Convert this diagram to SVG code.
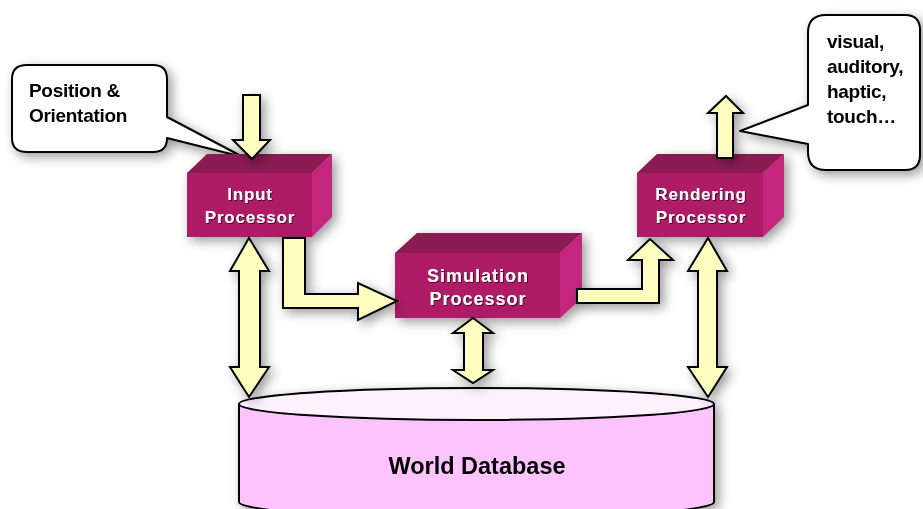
<svg xmlns="http://www.w3.org/2000/svg" width="923" height="509" viewBox="0 0 923 509">
  <defs>
    <filter id="sh" x="-20%" y="-20%" width="150%" height="150%">
      <feDropShadow dx="4" dy="4" stdDeviation="6" flood-color="#000" flood-opacity="0.4"/>
    </filter>
    <filter id="tsh" x="-10%" y="-10%" width="130%" height="130%">
      <feDropShadow dx="1" dy="1" stdDeviation="0.4" flood-color="#3a0020" flood-opacity="0.9"/>
    </filter>
  </defs>
  <style>
    .front { fill: #AE1F68; }
    .top { fill: #8B1A52; }
    .side { fill: #C4267E; }
    .blabel { font-family: "Liberation Sans", Arial, sans-serif; font-weight: bold; font-size: 17px; fill: #ffffff; text-anchor: middle; letter-spacing: 0.8px; }
    .callout { fill: #ffffff; stroke: #000; stroke-width: 2; stroke-linejoin: round; }
    .ctext { font-family: "Liberation Sans", Arial, sans-serif; font-weight: bold; font-size: 19px; fill: #000; letter-spacing: -0.3px; }
    .arrow { fill: #FFFFC0; stroke: #000; stroke-width: 2; stroke-linejoin: miter; }
  </style>
  <rect width="923" height="509" fill="#ffffff"/>

  <g id="world-database" filter="url(#sh)">
    <path d="M239,404 V502 A237.5,16 0 0 0 714,502 V404 Z" fill="#FFC4FF" stroke="#000" stroke-width="2"/>
    <ellipse cx="476.5" cy="404" rx="237.5" ry="16" fill="#FDF0FF" stroke="#000" stroke-width="2"/>
    <text x="477" y="474" font-family="Liberation Sans, Arial, sans-serif" font-weight="bold" font-size="23.5" text-anchor="middle" fill="#000">World Database</text>
  </g>

  <g id="position-callout" filter="url(#sh)">
    <path class="callout" d="M27,65 H153 Q167,65 167,79 V117 L243,157 L167,138 Q167,152 153,152 H27 Q12,152 12,138 V79 Q12,65 27,65 Z"/>
    <text class="ctext" x="29" y="97">Position &amp;</text>
    <text class="ctext" x="29" y="122">Orientation</text>
  </g>

  <g id="output-callout" filter="url(#sh)">
    <path class="callout" d="M826,15 H905 Q920,15 920,30 V155 Q920,170 905,170 H826 Q808,170 808,152 V144 L740,131 L808,105 V33 Q808,15 826,15 Z"/>
    <text class="ctext" x="827" y="48">visual,</text>
    <text class="ctext" x="827" y="73">auditory,</text>
    <text class="ctext" x="827" y="98">haptic,</text>
    <text class="ctext" x="827" y="123">touch…</text>
  </g>

  <g id="input-processor" filter="url(#sh)">
    <rect class="front" x="187" y="173" width="125" height="64"/>
    <polygon class="top" points="187,173 207,154 332,154 312,173"/>
    <polygon class="side" points="312,173 332,154 332,217 312,237"/>
    <g filter="url(#tsh)">
      <text class="blabel" x="250" y="200">Input</text>
      <text class="blabel" x="250" y="223">Processor</text>
    </g>
  </g>

  <g id="simulation-processor" filter="url(#sh)">
    <rect class="front" x="395" y="253" width="165" height="65"/>
    <polygon class="top" points="395,253 417,233 582,233 560,253"/>
    <polygon class="side" points="560,253 582,233 582,298 560,318"/>
    <g filter="url(#tsh)">
      <text class="blabel" x="478" y="282" style="font-size:18px;letter-spacing:1px">Simulation</text>
      <text class="blabel" x="478" y="305" style="font-size:18px;letter-spacing:1px">Processor</text>
    </g>
  </g>

  <g id="rendering-processor" filter="url(#sh)">
    <rect class="front" x="637" y="173" width="126" height="64"/>
    <polygon class="top" points="637,173 657,154 784,154 763,173"/>
    <polygon class="side" points="763,173 784,154 784,217 763,237"/>
    <g filter="url(#tsh)">
      <text class="blabel" x="701" y="200">Rendering</text>
      <text class="blabel" x="701" y="223">Processor</text>
    </g>
  </g>

  <g id="connectors" filter="url(#sh)">
    <polygon class="arrow" points="243,95 260,95 260,140 270,140 252,159 233,140 243,140"/>
    <polygon class="arrow" points="249,238 269,271 260,271 260,367 269,367 249,397 230,367 239,367 239,271 230,271"/>
    <polygon class="arrow" points="283,238 305,238 305,294 358,294 358,283 397,301 358,320 358,308 283,308"/>
    <polygon class="arrow" points="473,318 493,333 483,333 483,370 493,370 473,383 453,370 464,370 464,333 453,333"/>
    <polygon class="arrow" points="577,289 642,289 642,260 628,260 650,239 673,260 659,260 659,303 577,303"/>
    <polygon class="arrow" points="708,238 727,271 717,271 717,367 727,367 708,397 688,367 698,367 698,271 688,271"/>
    <polygon class="arrow" points="726,96 743,113 733,113 733,158 717,158 717,113 708,113"/>
  </g>
</svg>
